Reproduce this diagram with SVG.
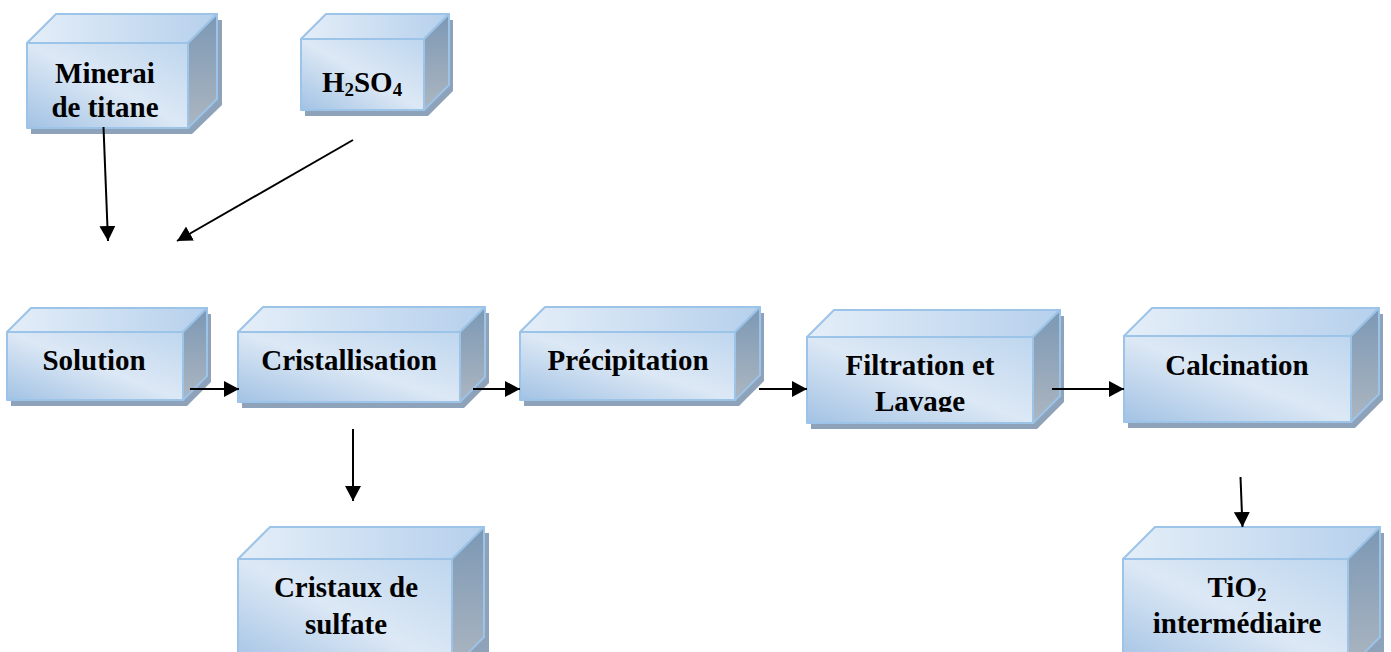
<svg xmlns="http://www.w3.org/2000/svg" width="1391" height="652" viewBox="0 0 1391 652">
  <style>
    .shadow { fill: #8ea3ba; }
    .front { fill: url(#gFront); stroke: #9cc3e8; stroke-width: 2; stroke-linejoin: round; }
    .top { fill: url(#gTop); stroke: #9cc3e8; stroke-width: 2; stroke-linejoin: round; }
    .side { fill: url(#gSide); stroke: #9cc3e8; stroke-width: 2; stroke-linejoin: round; }
    .lbl { font-family: "Liberation Serif", "Times New Roman", serif; font-weight: bold; font-size: 29px; fill: #000; text-anchor: middle; }
    .sub { font-size: 19px; }
    .conn { stroke: #000; stroke-width: 2; fill: none; marker-end: url(#arrow); }
  </style>
  <defs>
    <linearGradient id="gFront" x1="0" y1="1" x2="1" y2="0">
      <stop offset="0" stop-color="#a2c2e4"/>
      <stop offset="0.5" stop-color="#dce8f5"/>
      <stop offset="1" stop-color="#bed6ee"/>
    </linearGradient>
    <linearGradient id="gTop" x1="0" y1="0.5" x2="1" y2="0.5">
      <stop offset="0" stop-color="#e4eef8"/>
      <stop offset="1" stop-color="#b6d0ec"/>
    </linearGradient>
    <linearGradient id="gSide" x1="0" y1="0" x2="0" y2="1">
      <stop offset="0" stop-color="#7c98b5"/>
      <stop offset="1" stop-color="#acb6c0"/>
    </linearGradient>
    <marker id="arrow" markerUnits="userSpaceOnUse" markerWidth="16" markerHeight="16" refX="15" refY="8" orient="auto">
      <path d="M0,0 L15,8 L0,16 Z" fill="#000"/>
    </marker>
    <clipPath id="clipLavage">
      <rect x="800" y="300" width="260" height="112"/>
    </clipPath>
  </defs>

  <!-- Minerai de titane: front x=27 y=43 w=161 h=85 depth=29 -->
  <g id="minerai">
    <polygon class="shadow" points="31,49 60,20 222,20 222,105 192,134 31,134"/>
    <rect class="front" x="27" y="43" width="161" height="85"/>
    <polygon class="top" points="27,43 56,14 217,14 188,43"/>
    <polygon class="side" points="188,43 217,14 217,99 188,128"/>
    <text class="lbl" x="105" y="83">Minerai</text>
    <text class="lbl" x="105" y="117">de titane</text>
  </g>

  <!-- H2SO4: front x=301 y=39 w=123 h=71 depth=25 -->
  <g id="h2so4">
    <polygon class="shadow" points="305,45 330,20 453,20 453,91 428,116 305,116"/>
    <rect class="front" x="301" y="39" width="123" height="71"/>
    <polygon class="top" points="301,39 326,14 449,14 424,39"/>
    <polygon class="side" points="424,39 449,14 449,85 424,110"/>
    <text class="lbl" x="362" y="92">H<tspan class="sub" dy="4">2</tspan><tspan dy="-4">SO</tspan><tspan class="sub" dy="4">4</tspan></text>
  </g>

  <!-- Solution: front x=7 y=332 w=176 h=68 depth=24 -->
  <g id="solution">
    <polygon class="shadow" points="11,338 35,314 211,314 211,382 187,406 11,406"/>
    <rect class="front" x="7" y="332" width="176" height="68"/>
    <polygon class="top" points="7,332 31,308 207,308 183,332"/>
    <polygon class="side" points="183,332 207,308 207,376 183,400"/>
    <text class="lbl" x="94" y="370">Solution</text>
  </g>

  <!-- Cristallisation: front x=238 y=332 w=222 h=70 depth=25 -->
  <g id="cristallisation">
    <polygon class="shadow" points="242,338 267,313 489,313 489,383 464,408 242,408"/>
    <rect class="front" x="238" y="332" width="222" height="70"/>
    <polygon class="top" points="238,332 263,307 485,307 460,332"/>
    <polygon class="side" points="460,332 485,307 485,377 460,402"/>
    <text class="lbl" x="349" y="370">Cristallisation</text>
  </g>

  <!-- Précipitation: front x=520 y=332 w=215 h=68 depth=25 -->
  <g id="precipitation">
    <polygon class="shadow" points="524,338 549,313 764,313 764,381 739,406 524,406"/>
    <rect class="front" x="520" y="332" width="215" height="68"/>
    <polygon class="top" points="520,332 545,307 760,307 735,332"/>
    <polygon class="side" points="735,332 760,307 760,375 735,400"/>
    <text class="lbl" x="628" y="370">Précipitation</text>
  </g>

  <!-- Filtration et Lavage: front x=807 y=337 w=226 h=86 depth=27 -->
  <g id="filtration">
    <polygon class="shadow" points="811,343 838,316 1064,316 1064,402 1037,429 811,429"/>
    <rect class="front" x="807" y="337" width="226" height="86"/>
    <polygon class="top" points="807,337 834,310 1060,310 1033,337"/>
    <polygon class="side" points="1033,337 1060,310 1060,396 1033,423"/>
    <text class="lbl" x="920" y="375">Filtration et</text>
    <text class="lbl" x="920" y="411" clip-path="url(#clipLavage)">Lavage</text>
  </g>

  <!-- Calcination: front x=1124 y=336 w=227 h=86 depth=28 -->
  <g id="calcination">
    <polygon class="shadow" points="1128,342 1156,314 1383,314 1383,400 1355,428 1128,428"/>
    <rect class="front" x="1124" y="336" width="227" height="86"/>
    <polygon class="top" points="1124,336 1152,308 1379,308 1351,336"/>
    <polygon class="side" points="1351,336 1379,308 1379,394 1351,422"/>
    <text class="lbl" x="1237" y="375">Calcination</text>
  </g>

  <!-- Cristaux de sulfate: front x=238 y=559 w=214 depth=32, runs off the bottom edge -->
  <g id="cristaux">
    <polygon class="shadow" points="242,565 274,533 489,533 489,660 242,660"/>
    <rect class="front" x="238" y="559" width="214" height="110"/>
    <polygon class="top" points="238,559 270,527 484,527 452,559"/>
    <polygon class="side" points="452,559 484,527 484,637 452,669"/>
    <text class="lbl" x="346" y="597">Cristaux de</text>
    <text class="lbl" x="346" y="634">sulfate</text>
  </g>

  <!-- TiO2 intermédiaire: front x=1123 y=559 w=225 depth=32, runs off the bottom edge -->
  <g id="tio2">
    <polygon class="shadow" points="1127,565 1159,533 1384,533 1384,660 1127,660"/>
    <rect class="front" x="1123" y="559" width="225" height="110"/>
    <polygon class="top" points="1123,559 1155,527 1380,527 1348,559"/>
    <polygon class="side" points="1348,559 1380,527 1380,637 1348,669"/>
    <text class="lbl" x="1237" y="597">TiO<tspan class="sub" dy="4">2</tspan></text>
    <text class="lbl" x="1237" y="633">intermédiaire</text>
  </g>

  <!-- Connectors -->
  <g id="connectors">
    <line class="conn" x1="103.5" y1="127" x2="108" y2="241"/>
    <line class="conn" x1="353" y1="140" x2="177" y2="241"/>
    <line class="conn" x1="190" y1="389" x2="239" y2="389"/>
    <line class="conn" x1="473" y1="389" x2="520" y2="389"/>
    <line class="conn" x1="759" y1="389" x2="807" y2="389"/>
    <line class="conn" x1="1052" y1="389" x2="1124" y2="389"/>
    <line class="conn" x1="353" y1="429" x2="353" y2="501"/>
    <line class="conn" x1="1240.5" y1="477" x2="1242.5" y2="527"/>
  </g>
</svg>
